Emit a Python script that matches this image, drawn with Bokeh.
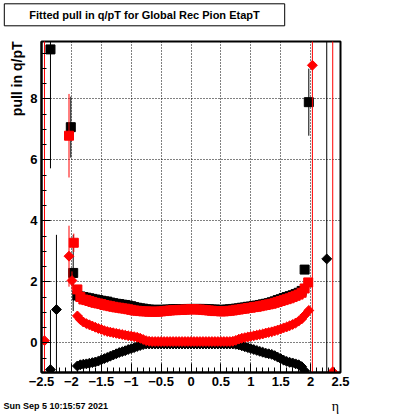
import numpy as np
from bokeh.plotting import figure
from bokeh.layouts import column
from bokeh.models import FixedTicker, Range1d, Title, Label
from bokeh.embed import file_html
from bokeh.resources import INLINE

# ---------------- data ----------------
eta_bins = np.round(np.arange(-1.90, 1.901, 0.05), 2)   # bin centres of the central region

sigma_black = [
    1.55, 1.52, 1.50, 1.48, 1.46, 1.44, 1.42, 1.40, 1.38, 1.36,
    1.35, 1.32, 1.30, 1.28, 1.27, 1.25, 1.24, 1.22, 1.20, 1.17,
    1.15, 1.13, 1.12, 1.10, 1.09, 1.08, 1.08, 1.08, 1.08, 1.08,
    1.09, 1.09, 1.10, 1.10, 1.10, 1.10, 1.10, 1.11, 1.11, 1.11,
    1.11, 1.11, 1.11, 1.10, 1.10, 1.09, 1.09, 1.08, 1.08, 1.08,
    1.09, 1.10, 1.11, 1.12, 1.13, 1.15, 1.16, 1.18, 1.19, 1.21,
    1.22, 1.24, 1.26, 1.28, 1.30, 1.33, 1.36, 1.40, 1.43, 1.47,
    1.50, 1.53, 1.56, 1.60, 1.64, 1.70, 2.40]

sigma_red = [
    1.75, 1.50, 1.42, 1.40, 1.37, 1.34, 1.31, 1.29, 1.27, 1.24,
    1.22, 1.20, 1.18, 1.16, 1.15, 1.13, 1.12, 1.10, 1.08, 1.06,
    1.05, 1.04, 1.03, 1.03, 1.02, 1.02, 1.02, 1.02, 1.03, 1.04,
    1.05, 1.06, 1.07, 1.07, 1.08, 1.08, 1.09, 1.09, 1.10, 1.10,
    1.09, 1.09, 1.08, 1.07, 1.06, 1.05, 1.04, 1.04, 1.03, 1.03,
    1.04, 1.05, 1.06, 1.08, 1.09, 1.11, 1.12, 1.14, 1.15, 1.17,
    1.18, 1.20, 1.22, 1.24, 1.26, 1.28, 1.31, 1.34, 1.37, 1.40,
    1.43, 1.46, 1.50, 1.54, 1.58, 1.64, 1.78]

mean_black = [
    -0.76, -0.72, -0.70, -0.69, -0.67, -0.65, -0.63, -0.60, -0.56, -0.52,
    -0.48, -0.44, -0.40, -0.36, -0.32, -0.29, -0.26, -0.22, -0.19, -0.16,
    -0.12, -0.09, -0.06, -0.04, -0.04, -0.04, -0.04, -0.04, -0.04, -0.04,
    -0.04, -0.04, -0.04, -0.04, -0.04, -0.04, -0.04, -0.04, -0.04, -0.04,
    -0.04, -0.04, -0.04, -0.04, -0.04, -0.04, -0.04, -0.04, -0.04, -0.04,
    -0.04, -0.04, -0.04, -0.05, -0.07, -0.10, -0.13, -0.16, -0.19, -0.22,
    -0.25, -0.28, -0.31, -0.34, -0.36, -0.38, -0.42, -0.47, -0.52, -0.57,
    -0.61, -0.64, -0.66, -0.69, -0.72, -0.78, -0.92]

mean_red = [
    0.88, 0.76, 0.68, 0.63, 0.59, 0.55, 0.51, 0.47, 0.44, 0.40,
    0.37, 0.35, 0.33, 0.31, 0.29, 0.27, 0.25, 0.23, 0.22, 0.20,
    0.18, 0.15, 0.11, 0.07, 0.05, 0.04, 0.04, 0.04, 0.04, 0.04,
    0.04, 0.04, 0.04, 0.04, 0.04, 0.04, 0.04, 0.04, 0.04, 0.04,
    0.04, 0.04, 0.04, 0.04, 0.04, 0.04, 0.04, 0.04, 0.04, 0.04,
    0.04, 0.04, 0.05, 0.08, 0.12, 0.15, 0.17, 0.19, 0.21, 0.23,
    0.25, 0.27, 0.29, 0.32, 0.34, 0.36, 0.39, 0.42, 0.45, 0.49,
    0.52, 0.56, 0.60, 0.65, 0.71, 0.78, 0.90]

# edge bins with large errors
sb_eta = [-2.35, -2.01, -1.97, 1.97]
sb_val = [9.62, 7.07, 2.29, 7.89]
sb_err = [3.90, 1.00, 1.25, 1.10]

sr_eta = [-2.04, -1.96, 1.96]
sr_val = [6.79, 3.28, 1.98]
sr_err = [1.37, 0.30, 0.10]

mb_eta = [-2.35, -2.25, 2.27]
mb_val = [-0.88, 1.09, 2.75]
mb_err = [1.95, 2.45, 12.0]

mr_eta = [-2.45, -2.04, -1.99, 1.97, 2.03, 2.37]
mr_val = [0.07, 2.84, 2.04, 1.06, 9.10, -0.95]
mr_err = [12.0, 1.00, 0.30, 0.05, 12.0, 12.0]

x_ticks = [-2.5, -2, -1.5, -1, -0.5, 0, 0.5, 1, 1.5, 2, 2.5]
y_ticks = [0, 2, 4, 6, 8]

title_text = "Fitted pull in q/pT for Global Rec Pion EtapT"
y_title = "pull in q/pT"
x_title = "\u03b7"
date_text = "Sun Sep  5 10:15:57 2021"

FONT = "Liberation Sans"


def text_strip(height):
    """A plain strip (frame = whole figure, pixel coordinates) that only carries texts."""
    f = figure(width=400, height=height, x_range=Range1d(0, 400), y_range=Range1d(height, 0),
               output_backend="svg", toolbar_location=None,
               x_axis_location=None, y_axis_location=None)
    f.min_border = 0
    f.min_border_left = f.min_border_right = f.min_border_top = f.min_border_bottom = 0
    f.outline_line_color = None
    f.xgrid.visible = False
    f.ygrid.visible = False
    f.background_fill_color = "white"
    f.border_fill_color = "white"
    return f


# ---------------- top strip: boxed title ----------------
top = text_strip(30)
top.add_layout(Label(x=144, y=14.3, text=title_text, text_align="center", text_baseline="middle",
                     text_font=FONT, text_font_style="bold", text_font_size="11px",
                     text_color="black", background_fill_color="white",
                     border_line_color="black", border_line_width=1, padding=(25, 5)))

# ---------------- main figure ----------------
p = figure(width=400, height=364, x_range=Range1d(-2.5, 2.5),
           y_range=Range1d(-0.974, 9.879), output_backend="svg",
           toolbar_location=None)
p.min_border_left = 41
p.min_border_right = 60
p.min_border_top = 11
p.min_border_bottom = 22
p.background_fill_color = "white"
p.border_fill_color = "white"
p.outline_line_color = "black"
p.outline_line_width = 2

xt = FixedTicker(ticks=x_ticks, minor_ticks=list(np.round(np.arange(-2.5, 2.501, 0.1), 2)))
yt = FixedTicker(ticks=y_ticks, minor_ticks=list(np.arange(-0.5, 9.9, 0.5)))
p.xaxis.ticker = xt
p.yaxis.ticker = yt
p.xgrid.ticker = xt
p.ygrid.ticker = yt
for g in (p.xgrid, p.ygrid):
    g.grid_line_color = "black"
    g.grid_line_dash = "1 2"
    g.grid_line_width = 1

p.xaxis.major_label_overrides = {t: (("\u2212" + str(abs(t))) if t < 0 else str(t)) for t in x_ticks}

for ax in (p.xaxis, p.yaxis):
    ax.axis_line_color = "black"
    ax.axis_line_width = 2
    ax.major_tick_in = 9
    ax.major_tick_out = 0
    ax.minor_tick_in = 5
    ax.minor_tick_out = 0
    ax.major_tick_line_color = "black"
    ax.minor_tick_line_color = "black"
    ax.major_label_text_font = FONT
    ax.major_label_text_font_style = "bold"
    ax.major_label_text_font_size = "13px"
    ax.major_label_text_color = "black"
p.xaxis.major_label_standoff = 4
p.yaxis.major_label_standoff = 4

# y axis title as a left-side title aligned to the top
p.add_layout(Title(text=y_title, align="right", standoff=6,
                   text_font=FONT, text_font_style="bold", text_font_size="14px",
                   text_color="black"), "left")


def errbars(xs, ys, es, color):
    xs = np.asarray(xs, float)
    ys = np.asarray(ys, float)
    es = np.asarray(es, float)
    p.segment(x0=xs, y0=ys - es, x1=xs, y1=ys + es, line_color=color, line_width=1)


# black sigma (squares)
errbars(sb_eta, sb_val, sb_err, "black")
p.scatter(eta_bins, sigma_black, marker="square", size=9, fill_color="black", line_color="black")
p.scatter(sb_eta, sb_val, marker="square", size=9, fill_color="black", line_color="black")
# black mean (diamonds)
errbars(mb_eta, mb_val, mb_err, "black")
p.scatter(eta_bins, mean_black, marker="square", angle=np.pi / 4, size=7, fill_color="black", line_color="black")
p.scatter(mb_eta, mb_val, marker="square", angle=np.pi / 4, size=7, fill_color="black", line_color="black")
# red sigma (squares)
errbars(sr_eta, sr_val, sr_err, "red")
p.scatter(eta_bins, sigma_red, marker="square", size=9, fill_color="red", line_color="red")
p.scatter(sr_eta, sr_val, marker="square", size=9, fill_color="red", line_color="red")
# red mean (diamonds)
errbars(mr_eta, mr_val, mr_err, "red")
p.scatter(eta_bins, mean_red, marker="square", angle=np.pi / 4, size=7, fill_color="red", line_color="red")
p.scatter(mr_eta, mr_val, marker="square", angle=np.pi / 4, size=7, fill_color="red", line_color="red")

# ---------------- bottom strip: date stamp and eta title ----------------
bottom = text_strip(20)
bottom.add_layout(Label(x=3, y=11, text=date_text, text_align="left", text_baseline="middle",
                        text_font=FONT, text_font_style="bold", text_font_size="9px",
                        text_color="black"))
bottom.add_layout(Label(x=335, y=11.5, text=x_title, text_align="center", text_baseline="middle",
                        text_font="Liberation Serif", text_font_size="14px", text_color="black"))

# keep each strip's frame independent of the main plot's frame
for f in (top, p, bottom):
    try:
        f.frame_align = False
    except Exception:
        pass

page = column(top, p, bottom, spacing=0)
open("out.html", "w").write(file_html(page, INLINE))
